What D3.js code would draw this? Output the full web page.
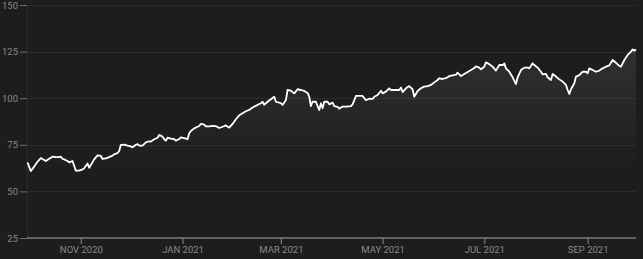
<!DOCTYPE html>
<html><head><meta charset="utf-8">
<script src="https://cdn.jsdelivr.net/npm/d3@7"></script>
<style>html,body{margin:0;padding:0;background:#1d1d1d;}svg{display:block;}</style>
</head><body>
<svg id="c" width="643" height="259"></svg>
<script>
const dates = ["2020-09-30","2020-10-02","2020-10-04","2020-10-06","2020-10-08","2020-10-09","2020-10-11","2020-10-13","2020-10-15","2020-10-17","2020-10-19","2020-10-20","2020-10-21","2020-10-22","2020-10-24","2020-10-25","2020-10-27","2020-10-29","2020-10-31","2020-11-02","2020-11-03","2020-11-05","2020-11-06","2020-11-09","2020-11-11","2020-11-13","2020-11-14","2020-11-16","2020-11-18","2020-11-20","2020-11-21","2020-11-23","2020-11-24","2020-11-25","2020-11-27","2020-11-29","2020-11-30","2020-12-02","2020-12-04","2020-12-05","2020-12-06","2020-12-08","2020-12-10","2020-12-12","2020-12-13","2020-12-15","2020-12-17","2020-12-18","2020-12-20","2020-12-21","2020-12-22","2020-12-23","2020-12-25","2020-12-27","2020-12-28","2020-12-30","2020-12-31","2021-01-02","2021-01-04","2021-01-05","2021-01-06","2021-01-08","2021-01-10","2021-01-11","2021-01-12","2021-01-14","2021-01-15","2021-01-17","2021-01-19","2021-01-21","2021-01-23","2021-01-25","2021-01-27","2021-01-29","2021-01-31","2021-02-02","2021-02-04","2021-02-06","2021-02-08","2021-02-10","2021-02-11","2021-02-13","2021-02-15","2021-02-17","2021-02-18","2021-02-19","2021-02-21","2021-02-23","2021-02-25","2021-02-26","2021-03-01","2021-03-02","2021-03-04","2021-03-05","2021-03-07","2021-03-09","2021-03-11","2021-03-13","2021-03-15","2021-03-17","2021-03-18","2021-03-19","2021-03-20","2021-03-22","2021-03-23","2021-03-24","2021-03-25","2021-03-26","2021-03-27","2021-03-29","2021-03-30","2021-04-01","2021-04-02","2021-04-04","2021-04-05","2021-04-07","2021-04-09","2021-04-12","2021-04-13","2021-04-15","2021-04-17","2021-04-19","2021-04-21","2021-04-23","2021-04-25","2021-04-26","2021-04-28","2021-04-30","2021-05-01","2021-05-03","2021-05-05","2021-05-06","2021-05-09","2021-05-11","2021-05-12","2021-05-13","2021-05-15","2021-05-17","2021-05-19","2021-05-20","2021-05-22","2021-05-24","2021-05-26","2021-05-28","2021-05-30","2021-06-01","2021-06-03","2021-06-04","2021-06-06","2021-06-09","2021-06-10","2021-06-12","2021-06-14","2021-06-15","2021-06-17","2021-06-19","2021-06-21","2021-06-23","2021-06-25","2021-06-26","2021-06-28","2021-06-29","2021-07-01","2021-07-02","2021-07-04","2021-07-06","2021-07-08","2021-07-10","2021-07-12","2021-07-13","2021-07-14","2021-07-16","2021-07-18","2021-07-20","2021-07-21","2021-07-23","2021-07-25","2021-07-27","2021-07-28","2021-07-30","2021-07-31","2021-08-02","2021-08-04","2021-08-05","2021-08-07","2021-08-08","2021-08-10","2021-08-11","2021-08-13","2021-08-15","2021-08-17","2021-08-19","2021-08-20","2021-08-21","2021-08-22","2021-08-24","2021-08-25","2021-08-27","2021-08-29","2021-08-31","2021-09-01","2021-09-02","2021-09-04","2021-09-06","2021-09-08","2021-09-09","2021-09-10","2021-09-12","2021-09-14","2021-09-16","2021-09-18","2021-09-20","2021-09-21","2021-09-23","2021-09-25","2021-09-27","2021-09-28","2021-09-29","2021-09-30"];
const values = [65.5,60.9,63.3,65.9,67.9,67.4,66.3,67.5,68.6,68.4,68.4,68.6,67.5,67.2,66.3,65.6,66.3,61.1,61.1,61.8,62.4,65.0,62.7,67.2,69.3,69.0,67.4,67.7,68.4,69.2,69.9,70.6,71.7,75.0,75.1,74.6,74.4,73.7,75.0,75.4,74.6,74.6,76.3,76.9,76.7,78.0,78.8,80.3,79.4,78.0,77.2,78.8,78.3,78.0,77.2,78.1,79.0,78.6,78.0,81.2,82.4,83.8,84.7,85.1,86.2,85.8,84.9,84.9,85.2,85.0,84.0,84.7,85.4,84.2,86.2,88.7,90.8,91.9,93.0,93.7,94.4,95.5,96.4,97.3,98.1,96.5,98.1,99.4,100.8,98.1,97.3,96.4,99.0,104.4,104.0,102.6,104.8,104.4,103.9,102.8,100.8,95.8,98.1,98.1,95.8,93.7,97.3,94.6,98.1,98.1,96.7,97.6,95.8,95.4,94.4,95.5,95.5,95.8,96.7,101.2,101.3,101.2,99.0,99.7,99.6,100.8,101.7,104.0,102.6,103.5,105.3,104.4,104.4,104.4,105.8,103.3,105.3,106.5,104.8,100.8,103.9,105.3,106.2,106.5,107.1,108.5,109.8,110.7,110.3,111.2,111.9,112.3,112.6,113.7,111.9,113.0,114.1,115.1,116.2,117.1,116.4,115.5,116.9,119.2,118.3,116.9,114.8,117.8,117.8,118.7,116.0,114.2,111.2,107.6,111.2,115.1,116.4,116.4,116.0,118.7,117.8,116.4,114.2,112.8,113.0,111.2,109.8,113.0,111.6,110.1,108.9,107.1,104.4,102.3,104.8,108.0,111.6,112.4,114.2,114.2,113.4,116.0,115.1,114.2,114.8,115.5,116.0,116.9,117.6,120.5,119.0,117.3,116.9,120.5,123.2,125.0,126.2,125.5,126.2];
const yTicks = [25,50,75,100,125,150];
const xTickDates = ["2020-11-01","2021-01-01","2021-03-01","2021-05-01","2021-07-01","2021-09-01"];

const W = 643, H = 259;
const m = {top:5, right:7, bottom:21, left:27};
const parse = d3.timeParse("%Y-%m-%d");
const data = dates.map((d,i)=>({date:parse(d), value:values[i]}));

const svg = d3.select("#c");
svg.append("rect").attr("width",W).attr("height",H).attr("fill","#1d1d1d");

const x = d3.scaleTime().domain(d3.extent(data,d=>d.date)).range([m.left+0.5, W-m.right]);
const y = d3.scaleLinear().domain([25,150]).range([H-m.bottom, m.top]);

const defs = svg.append("defs");
const grad = defs.append("linearGradient").attr("id","g").attr("gradientUnits","userSpaceOnUse")
  .attr("x1",0).attr("x2",0).attr("y1",y(127)).attr("y2",y(62));
grad.append("stop").attr("offset",0).attr("stop-color","#fff").attr("stop-opacity",0.09);
grad.append("stop").attr("offset",1).attr("stop-color","#fff").attr("stop-opacity",0);

// grid
svg.append("g").selectAll("line").data(yTicks.filter(t=>t>25)).join("line")
  .attr("x1",m.left).attr("x2",W-m.right)
  .attr("y1",d=>Math.round(y(d))+0.5).attr("y2",d=>Math.round(y(d))+0.5)
  .attr("stroke","#2b2b2b").attr("stroke-width",1);
svg.append("line").attr("x1",m.left+0.5).attr("x2",m.left+0.5).attr("y1",m.top).attr("y2",H-m.bottom)
  .attr("stroke","#2b2b2b");

// area + line
svg.append("path").datum(data)
  .attr("d", d3.area().x(d=>x(d.date)).y0(H-m.bottom).y1(d=>y(d.value)))
  .attr("fill","url(#g)");
svg.append("path").datum(data)
  .attr("d", d3.line().x(d=>x(d.date)).y(d=>y(d.value)))
  .attr("fill","none").attr("stroke","#fff").attr("stroke-width",1.8).attr("stroke-linejoin","round");

// y axis
const ya = svg.append("g").attr("transform",`translate(${m.left},0)`)
  .call(d3.axisLeft(y).tickValues(yTicks).tickSize(7).tickPadding(2));
ya.select(".domain").remove();
ya.selectAll(".tick line").attr("stroke","#6f6f6f");
ya.selectAll("text").attr("fill","#8a8a8a").style("font-family","Roboto, sans-serif").style("font-size","9.5px");

// x axis
const fmt = d3.timeFormat("%b %Y");
const xa = svg.append("g").attr("transform",`translate(0,${H-m.bottom})`)
  .call(d3.axisBottom(x).tickValues(xTickDates.map(parse)).tickSize(6).tickPadding(2).tickFormat(d=>fmt(d).toUpperCase()));
xa.select(".domain").attr("stroke","#7a7a7a").attr("stroke-width",1.5).attr("d",`M${m.left},0H${W-m.right}`);
xa.selectAll(".tick line").attr("stroke","#7a7a7a").attr("stroke-width",1.2);
xa.selectAll("text").attr("fill","#8a8a8a").style("font-family","Roboto, sans-serif").style("font-size","9.5px");
</script>
</body></html>
